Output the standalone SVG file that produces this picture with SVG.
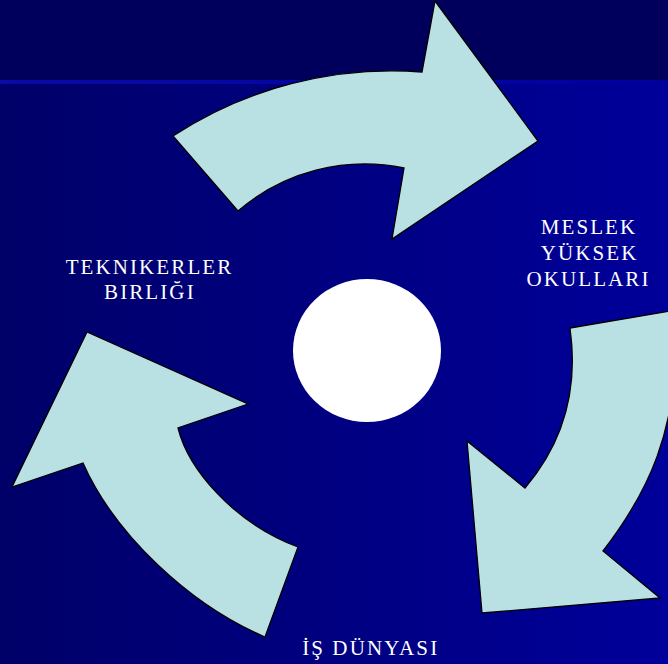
<svg xmlns="http://www.w3.org/2000/svg" width="668" height="664" viewBox="0 0 668 664">
  <defs>
    <linearGradient id="bg" x1="0" y1="0" x2="1" y2="0">
      <stop offset="0" stop-color="#000068"/>
      <stop offset="1" stop-color="#00009a"/>
    </linearGradient>
    <linearGradient id="line" x1="0" y1="0" x2="1" y2="0">
      <stop offset="0" stop-color="#0a0aa6"/>
      <stop offset="1" stop-color="#00009c"/>
    </linearGradient>
  </defs>
  <style>
    .arrow { fill: #b9e0e3; stroke: #000000; stroke-width: 1.3; stroke-linejoin: miter; }
    .label { font-family: "Liberation Serif", "Times New Roman", serif; font-size: 21px; fill: #ffffff; letter-spacing: 2.1px; text-anchor: middle; }
  </style>
  <rect x="0" y="0" width="668" height="664" fill="url(#bg)"/>
  <rect x="0" y="0" width="668" height="80" fill="#00005c"/>
  <rect x="0" y="80" width="668" height="4" fill="url(#line)"/>

  <g id="arrow-top">
    <path class="arrow" d="M173,136 A400,400 0 0 1 422,72 L435,1 L538,141 L392,239 L404,168 A194,194 0 0 0 238,211 Z"/>
  </g>
  <g id="arrow-right">
    <path class="arrow" d="M570,328 L700,306 L690,320 L676,340 C676,430 650,490 603,551 L660,598 L482,613 L467,441 L525,488 C566,440 578,385 570,328 Z"/>
  </g>
  <g id="arrow-left">
    <path class="arrow" d="M87,332 L248,404 L178,428 C188,468 232,522 298,547 L265,637 C190,605 115,535 83,463 L12,487 Z"/>
  </g>
  <g id="center">
    <ellipse cx="367" cy="350.5" rx="74" ry="71.5" fill="#ffffff"/>
  </g>

  <g id="label-meslek">
    <text class="label" x="589" y="234">MESLEK</text>
    <text class="label" x="589.7" y="259.5">YÜKSEK</text>
    <text class="label" x="588.5" y="285.5">OKULLARI</text>
  </g>
  <g id="label-teknikerler">
    <text class="label" x="149.5" y="273.5">TEKNIKERLER</text>
    <text class="label" x="149.9" y="298.5">BIRLIĞI</text>
  </g>
  <g id="label-is">
    <text class="label" x="370.7" y="655">İŞ DÜNYASI</text>
  </g>
</svg>
